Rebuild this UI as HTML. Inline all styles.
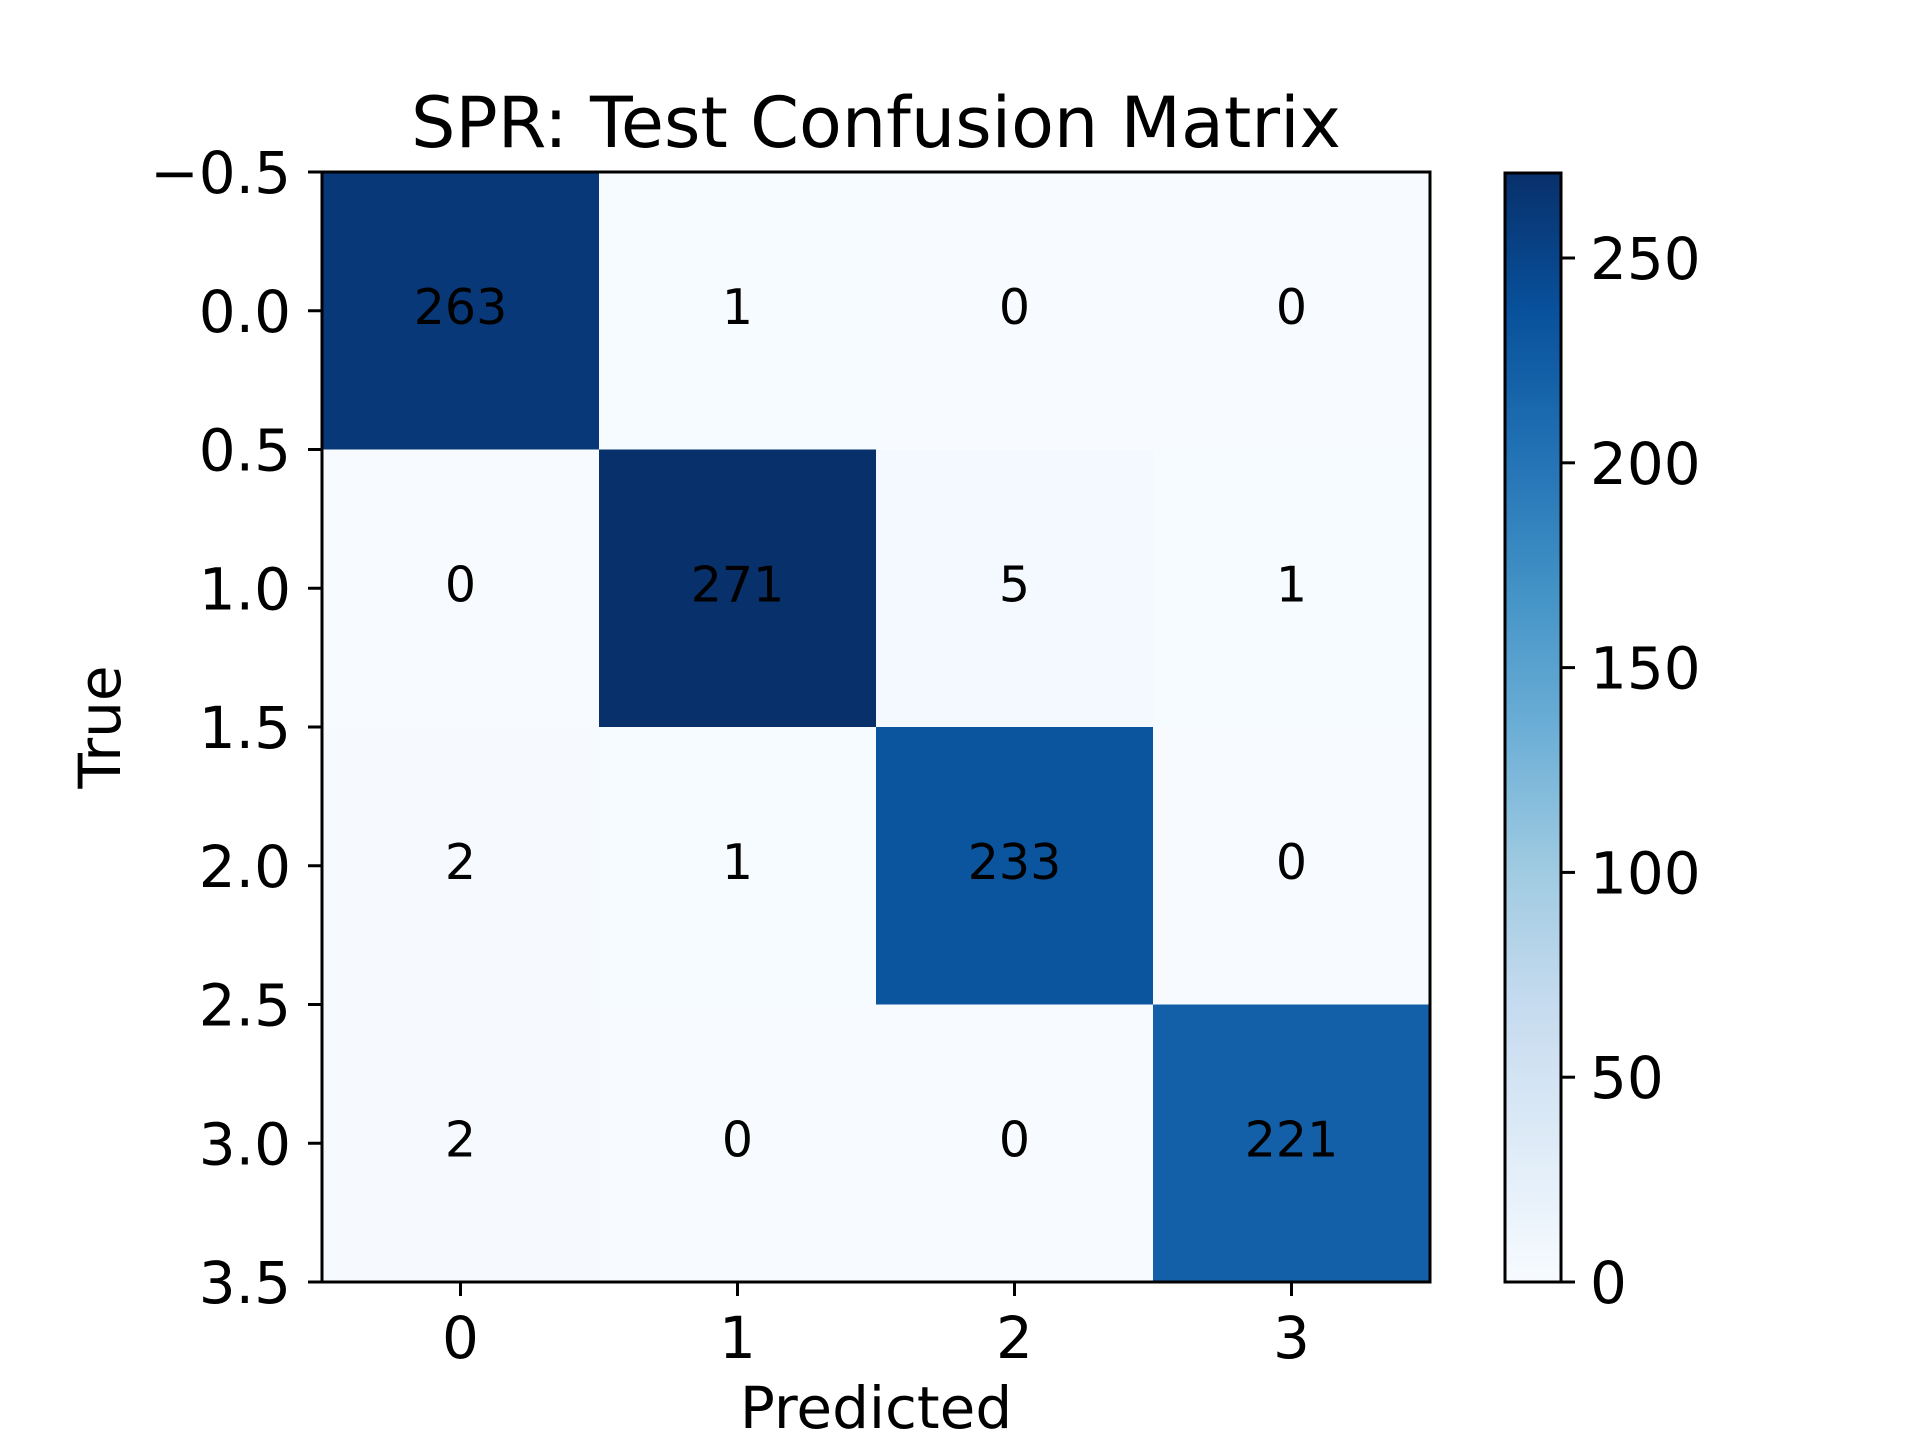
<!DOCTYPE html>
<html><head><meta charset="utf-8"><style>
html,body{margin:0;padding:0;background:#fff;}
svg{display:block;font-family:"DejaVu Sans","Liberation Sans",sans-serif;}
</style></head><body>
<svg id="chart" width="1920" height="1440" viewBox="0 0 1920 1440" xmlns="http://www.w3.org/2000/svg">
<rect width="1920" height="1440" fill="#fff"/>
<text x="876" y="147" font-size="70" text-anchor="middle">SPR: Test Confusion Matrix</text>
<g id="cells"></g>
<g id="yticks"></g>
<g id="xticks"></g>
<rect x="322" y="172" width="1108" height="1110" fill="none" stroke="#000" stroke-width="3"/>
<text x="876" y="1428" font-size="58" text-anchor="middle">Predicted</text>
<text x="120" y="727" font-size="58" text-anchor="middle" transform="rotate(-90 120 727)">True</text>
<defs><linearGradient id="cbgrad" x1="0" y1="1" x2="0" y2="0"></linearGradient></defs>
<rect x="1505" y="173" width="56" height="1109" fill="url(#cbgrad)" stroke="#000" stroke-width="3"/>
<g id="cbticks"></g>
</svg>
<script>
const trueLabels = [0, 1, 2, 3];
const predLabels = [0, 1, 2, 3];
const row0 = [263, 1, 0, 0];
const row1 = [0, 271, 5, 1];
const row2 = [2, 1, 233, 0];
const row3 = [2, 0, 0, 221];
const yTickLabels = ["\u22120.5","0.0","0.5","1.0","1.5","2.0","2.5","3.0","3.5"];
const yTickValues = [-0.5,0,0.5,1,1.5,2,2.5,3,3.5];
const cbTickValues = [0, 50, 100, 150, 200, 250];
const vmin = 0, vmax = 271;

const NS = "http://www.w3.org/2000/svg";
const L = 322, R = 1430, T = 172, B = 1282;
const xs = v => L + (v + 0.5) / 4 * (R - L);
const ys = v => T + (v + 0.5) / 4 * (B - T);
const cs = v => B - (v - vmin) / (vmax - vmin) * (B - T + 0);
const stops = ["#f7fbff","#deebf7","#c6dbef","#9ecae1","#6baed6","#4292c6","#2171b5","#08519c","#08306b"];
function hex(h){return [1,3,5].map(i=>parseInt(h.substr(i,2),16));}
function cmap(v){
  let t = Math.max(0, Math.min(1, (v - vmin) / (vmax - vmin))) * (stops.length - 1);
  let i = Math.min(Math.floor(t), stops.length - 2), f = t - i;
  const a = hex(stops[i]), b = hex(stops[i+1]);
  return "rgb(" + a.map((c,k)=>Math.round(c + (b[k]-c)*f)).join(",") + ")";
}
function mk(tag, attrs, parent){
  const e = document.createElementNS(NS, tag);
  for (const k in attrs) e.setAttribute(k, attrs[k]);
  parent.appendChild(e); return e;
}
const rows = [row0, row1, row2, row3];
const cells = document.getElementById("cells");
rows.forEach((row, r) => {
  row.forEach((v, c) => {
    const rect = mk("rect", {x: xs(c-0.5), y: ys(r-0.5), width: xs(c+0.5)-xs(c-0.5)+0.5, height: ys(r+0.5)-ys(r-0.5)+0.5, fill: cmap(v)}, cells);
    
    
    const t = mk("text", {x: xs(c), y: ys(r) + 13, "font-size": 49, "text-anchor": "middle", fill: "#000"}, cells);
    t.textContent = String(v);
    
    
  });
});
const yt = document.getElementById("yticks");
yTickValues.forEach((v, i) => {
  const y = ys(v);
  const ln = mk("line", {x1: L - 14, x2: L, y1: y, y2: y, stroke: "#000", "stroke-width": 3}, yt);
  
  
  const t = mk("text", {x: 291, y: y + 21, "font-size": 58, "text-anchor": "end"}, yt);
  t.textContent = yTickLabels[i];
  
  
});
const xt = document.getElementById("xticks");
predLabels.forEach((v) => {
  const x = xs(v);
  const ln = mk("line", {x1: x, x2: x, y1: B, y2: B + 14, stroke: "#000", "stroke-width": 3}, xt);
  
  
  const t = mk("text", {x: x, y: 1358, "font-size": 58, "text-anchor": "middle"}, xt);
  t.textContent = String(v);
  
  
});
const grad = document.getElementById("cbgrad");
stops.forEach((s, i) => mk("stop", {offset: (i/(stops.length-1)*100)+"%", "stop-color": s}, grad));
const cbt = document.getElementById("cbticks");
cbTickValues.forEach((v) => {
  const y = cs(v);
  const ln = mk("line", {x1: 1561, x2: 1575, y1: y, y2: y, stroke: "#000", "stroke-width": 3}, cbt);
  
  
  const t = mk("text", {x: 1590, y: y + 21, "font-size": 58}, cbt);
  t.textContent = String(v);
  
  
});
</script>
</body></html>
